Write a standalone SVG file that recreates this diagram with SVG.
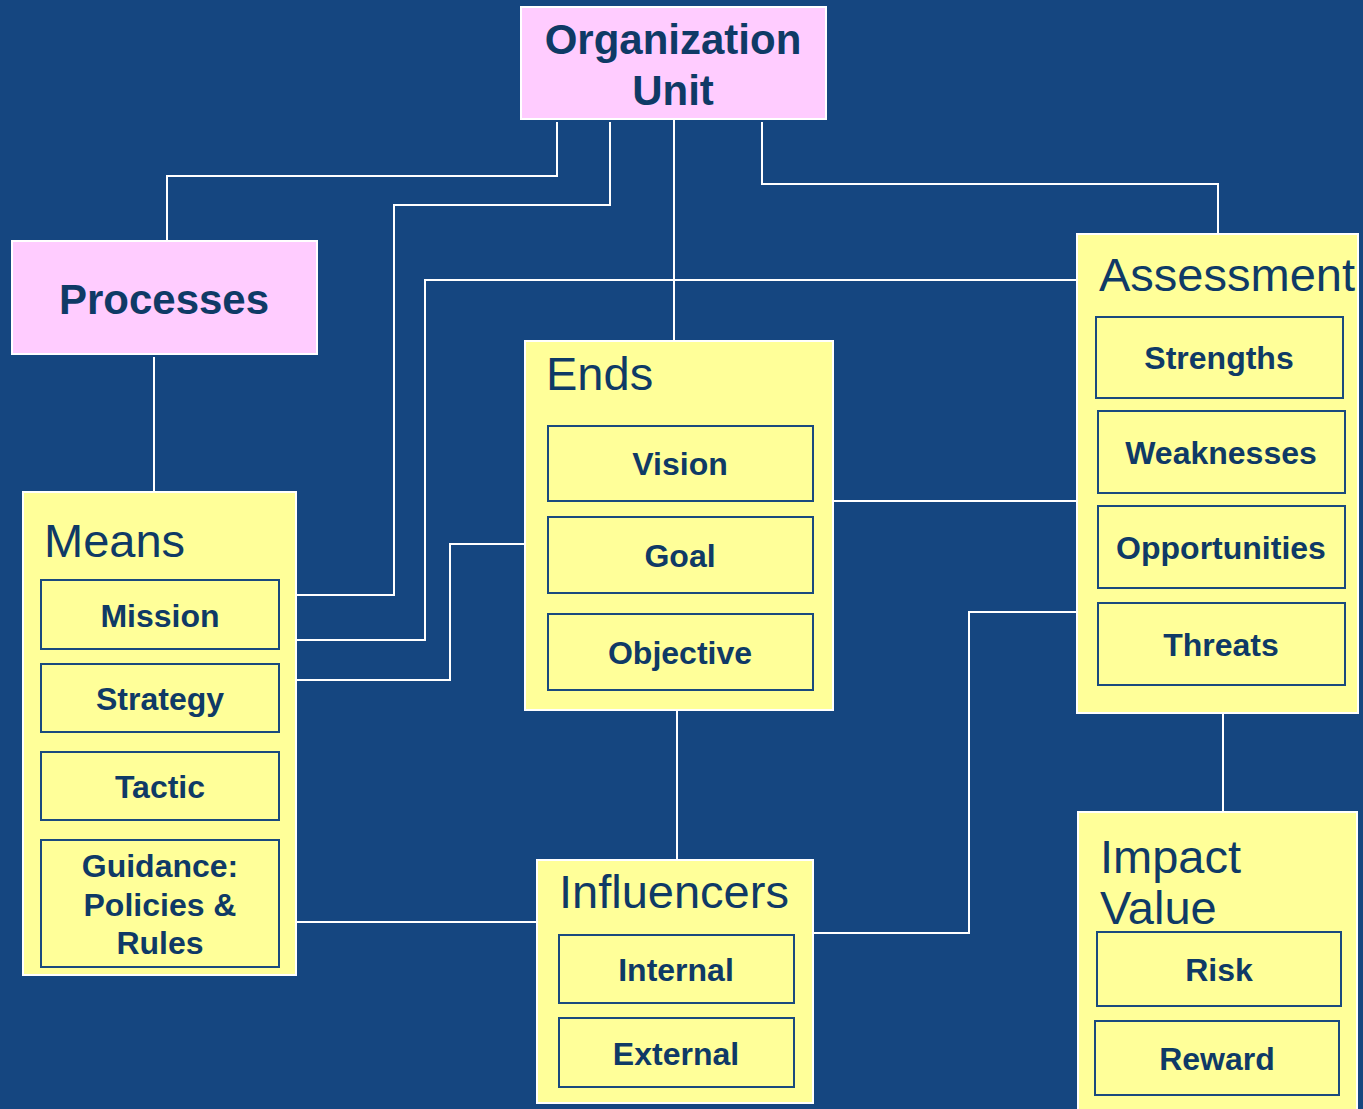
<svg xmlns="http://www.w3.org/2000/svg" width="1363" height="1109" viewBox="0 0 1363 1109">
<style>
.bg{fill:#154680}
.pink{fill:#ffccff;stroke:#ffffff;stroke-width:2}
.yel{fill:#ffff99;stroke:#ffffff;stroke-width:2}
.sub{fill:#ffff99;stroke:#1a4a7e;stroke-width:2}
.conn{fill:none;stroke:#ffffff;stroke-width:2}
text{font-family:"Liberation Sans",Arial,sans-serif;fill:#0f3a66}
.big{font-size:42px;font-weight:bold;text-anchor:middle}
.title{font-size:47px}
.lbl{font-size:32px;font-weight:bold;text-anchor:middle}
</style>
<rect class="bg" x="0" y="0" width="1363" height="1109"/>
<g id="connectors">
<polyline class="conn" points="557,122 557,176 167,176 167,241"/>
<polyline class="conn" points="610,122 610,205 394,205 394,595 296,595"/>
<polyline class="conn" points="674,119 674,341"/>
<polyline class="conn" points="762,122 762,184 1218,184 1218,234"/>
<polyline class="conn" points="1085,280 425,280 425,640 296,640"/>
<polyline class="conn" points="525,544 450,544 450,680 296,680"/>
<polyline class="conn" points="154,357 154,492"/>
<polyline class="conn" points="833,501 1085,501"/>
<polyline class="conn" points="677,710 677,860"/>
<polyline class="conn" points="296,922 537,922"/>
<polyline class="conn" points="813,933 969,933 969,612 1077,612"/>
<polyline class="conn" points="1223,713 1223,812"/>
</g>
<g id="org-unit">
<rect class="pink" x="521" y="7" width="305" height="112"/>
<text class="big" x="673" y="54">Organization</text>
<text class="big" x="673" y="105">Unit</text>
</g>
<g id="processes">
<rect class="pink" x="12" y="241" width="305" height="113"/>
<text class="big" x="164" y="314">Processes</text>
</g>
<g id="means">
<rect class="yel" x="23" y="492" width="273" height="483"/>
<text class="title" x="44" y="557">Means</text>
<rect class="sub" x="41" y="580" width="238" height="69"/>
<text class="lbl" x="160" y="627">Mission</text>
<rect class="sub" x="41" y="664" width="238" height="68"/>
<text class="lbl" x="160" y="710">Strategy</text>
<rect class="sub" x="41" y="752" width="238" height="68"/>
<text class="lbl" x="160" y="798">Tactic</text>
<rect class="sub" x="41" y="840" width="238" height="127"/>
<text class="lbl" x="160" y="877">Guidance:</text>
<text class="lbl" x="160" y="916">Policies &amp;</text>
<text class="lbl" x="160" y="954">Rules</text>
</g>
<g id="ends">
<rect class="yel" x="525" y="341" width="308" height="369"/>
<text class="title" x="546" y="390">Ends</text>
<rect class="sub" x="548" y="426" width="265" height="75"/>
<text class="lbl" x="680" y="475">Vision</text>
<rect class="sub" x="548" y="517" width="265" height="76"/>
<text class="lbl" x="680" y="567">Goal</text>
<rect class="sub" x="548" y="614" width="265" height="76"/>
<text class="lbl" x="680" y="664">Objective</text>
</g>
<g id="assessment">
<rect class="yel" x="1077" y="234" width="281" height="479"/>
<text class="title" x="1099" y="291">Assessment</text>
<rect class="sub" x="1096" y="317" width="247" height="81"/>
<text class="lbl" x="1219" y="369">Strengths</text>
<rect class="sub" x="1098" y="411" width="247" height="82"/>
<text class="lbl" x="1221" y="464">Weaknesses</text>
<rect class="sub" x="1098" y="506" width="247" height="82"/>
<text class="lbl" x="1221" y="559">Opportunities</text>
<rect class="sub" x="1098" y="603" width="247" height="82"/>
<text class="lbl" x="1221" y="656">Threats</text>
</g>
<g id="influencers">
<rect class="yel" x="537" y="860" width="276" height="243"/>
<text class="title" x="559" y="908">Influencers</text>
<rect class="sub" x="559" y="935" width="235" height="68"/>
<text class="lbl" x="676" y="981">Internal</text>
<rect class="sub" x="559" y="1018" width="235" height="69"/>
<text class="lbl" x="676" y="1065">External</text>
</g>
<g id="impact-value">
<rect class="yel" x="1078" y="812" width="279" height="310"/>
<text class="title" x="1100" y="873">Impact</text>
<text class="title" x="1100" y="924">Value</text>
<rect class="sub" x="1097" y="932" width="244" height="74"/>
<text class="lbl" x="1219" y="981">Risk</text>
<rect class="sub" x="1095" y="1021" width="244" height="74"/>
<text class="lbl" x="1217" y="1070">Reward</text>
</g>
</svg>
